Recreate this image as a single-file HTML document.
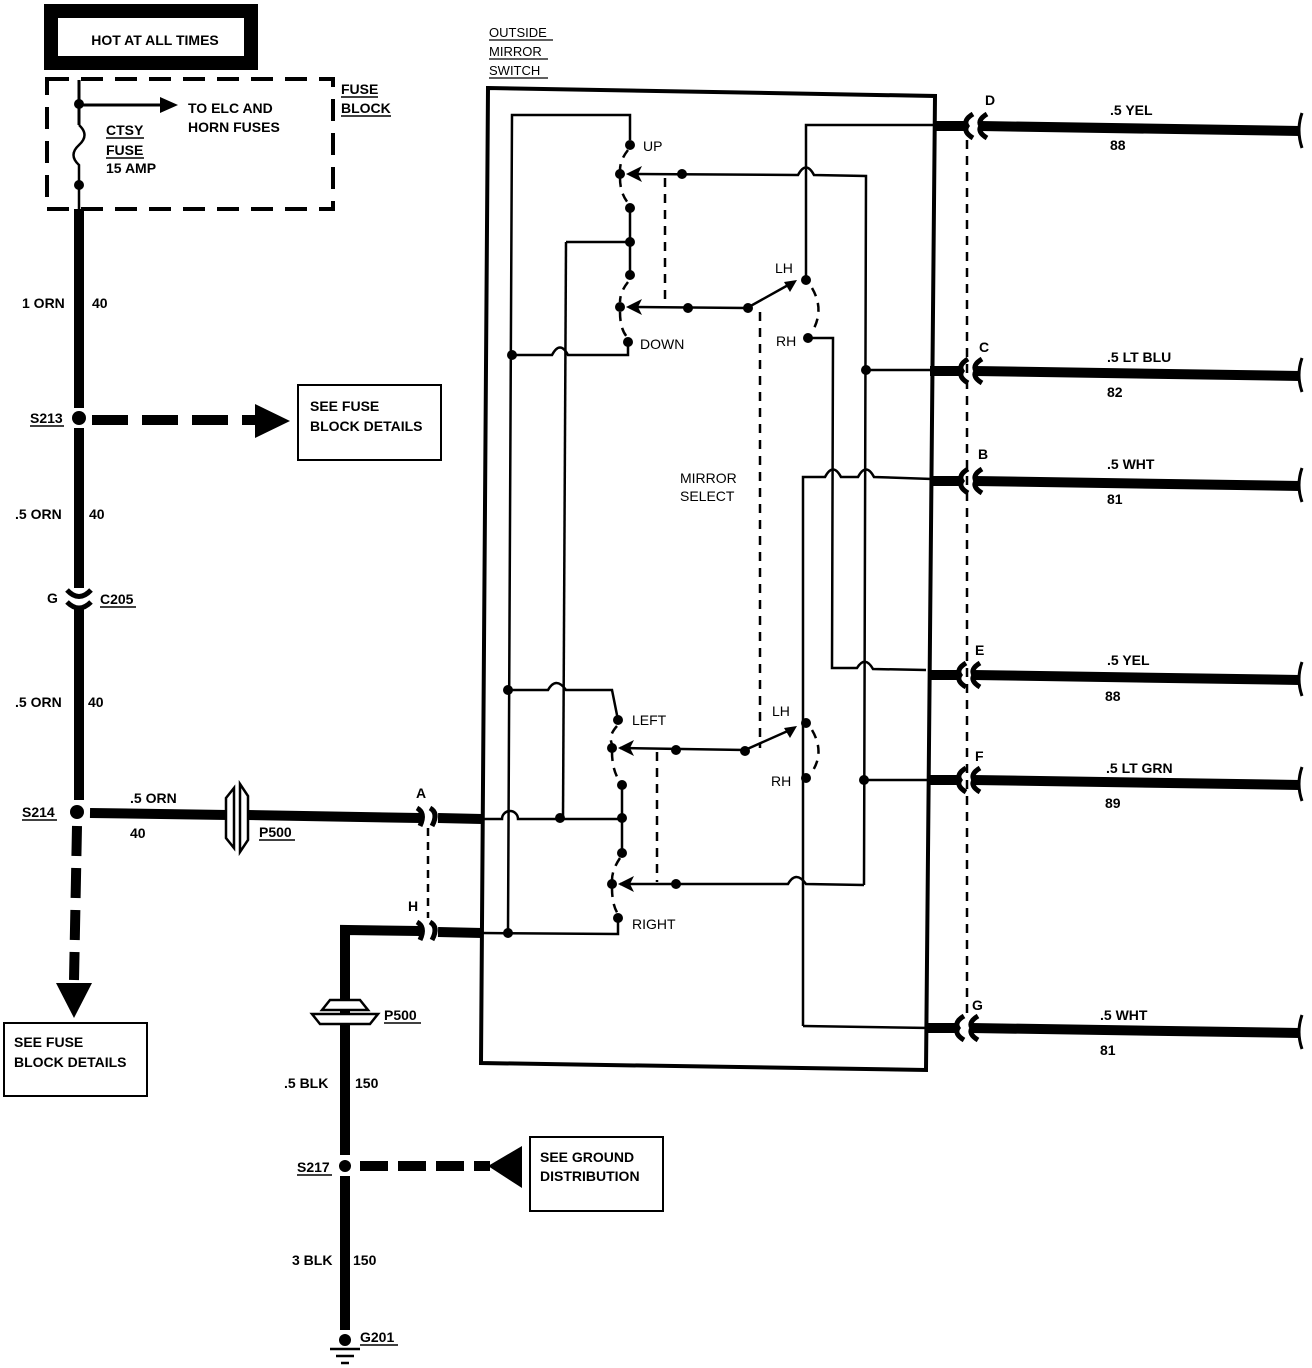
<!DOCTYPE html>
<html><head><meta charset="utf-8"><style>
html,body{margin:0;padding:0;background:#fff;width:1312px;height:1368px;overflow:hidden}
svg{display:block}
text{font-family:"Liberation Sans",sans-serif;font-weight:bold;font-size:14px;fill:#000}
</style></head><body>
<svg width="1312" height="1368" viewBox="0 0 1312 1368" xmlns="http://www.w3.org/2000/svg">
<defs>
<g id="rc">
 <rect x="0" y="-5" width="30" height="10"/>
 <path d="M38,-12 Q28,-6 32,0 Q28,6 38,12" fill="none" stroke="#000" stroke-width="5"/>
 <path d="M52,-12 Q42,-6 46,0 Q42,6 52,12" fill="none" stroke="#000" stroke-width="5"/>
</g>
</defs>

<rect x="51" y="11" width="200" height="52" fill="none" stroke="#000" stroke-width="14"/>
<text x="155" y="45" text-anchor="middle">HOT AT ALL TIMES</text>

<rect x="47" y="79" width="286" height="130" fill="none" stroke="#000" stroke-width="4" stroke-dasharray="22,12"/>
<text x="341" y="94">FUSE</text><line x1="341" y1="97" x2="378" y2="97" stroke="#000" stroke-width="1.5"/>
<text x="341" y="113">BLOCK</text><line x1="341" y1="116" x2="391" y2="116" stroke="#000" stroke-width="1.5"/>
<line x1="79" y1="80" x2="79" y2="125" stroke="#000" stroke-width="3"/>
<path d="M79,125 Q90,135 79,145 Q68,155 79,165 L79,210" fill="none" stroke="#000" stroke-width="2.5"/>
<circle cx="79" cy="104" r="5"/><circle cx="79" cy="185" r="5"/>
<line x1="79" y1="105" x2="160" y2="105" stroke="#000" stroke-width="3"/>
<polygon points="160,97 178,105 160,113"/>
<text x="188" y="113">TO ELC AND</text><text x="188" y="132">HORN FUSES</text>
<text x="106" y="135">CTSY</text><line x1="106" y1="138" x2="144" y2="138" stroke="#000" stroke-width="1.5"/>
<text x="106" y="155">FUSE</text><line x1="106" y1="158" x2="144" y2="158" stroke="#000" stroke-width="1.5"/>
<text x="106" y="173">15 AMP</text>

<line x1="79" y1="209" x2="79" y2="408" stroke="#000" stroke-width="10"/>
<line x1="79" y1="428" x2="79" y2="588" stroke="#000" stroke-width="10"/>
<line x1="79" y1="608" x2="79" y2="800" stroke="#000" stroke-width="10"/>
<text x="22" y="308">1 ORN</text><text x="92" y="308">40</text>
<circle cx="79" cy="418" r="7"/>
<text x="30" y="423">S213</text><line x1="30" y1="426" x2="64" y2="426" stroke="#000" stroke-width="1.5"/>
<line x1="92" y1="420" x2="255" y2="420" stroke="#000" stroke-width="10" stroke-dasharray="36,14"/>
<polygon points="255,404 290,421 255,438"/>
<rect x="298" y="385" width="143" height="75" fill="none" stroke="#000" stroke-width="2"/>
<text x="310" y="411">SEE FUSE</text><text x="310" y="431">BLOCK DETAILS</text>
<text x="15" y="519">.5 ORN</text><text x="89" y="519">40</text>
<path d="M67,590 Q79,603 91,590" fill="none" stroke="#000" stroke-width="5"/>
<path d="M67,602 Q79,614 91,602" fill="none" stroke="#000" stroke-width="5"/>
<text x="47" y="603">G</text>
<text x="100" y="604">C205</text><line x1="100" y1="607" x2="136" y2="607" stroke="#000" stroke-width="1.5"/>
<text x="15" y="707">.5 ORN</text><text x="88" y="707">40</text>
<circle cx="77" cy="812" r="7"/>
<text x="22" y="817">S214</text><line x1="22" y1="820" x2="57" y2="820" stroke="#000" stroke-width="1.5"/>
<line x1="77" y1="826" x2="74" y2="980" stroke="#000" stroke-width="10" stroke-dasharray="30,12"/>
<polygon points="56,983 92,983 74,1018"/>
<rect x="4" y="1023" width="143" height="73" fill="none" stroke="#000" stroke-width="2"/>
<text x="14" y="1047">SEE FUSE</text><text x="14" y="1067">BLOCK DETAILS</text>

<line x1="90" y1="813" x2="228" y2="815" stroke="#000" stroke-width="10"/>
<line x1="248" y1="815" x2="420" y2="818" stroke="#000" stroke-width="10"/>
<path d="M226,798 L234,788 L234,848 L226,838 Z" fill="#fff" stroke="#000" stroke-width="2.5"/>
<path d="M240,784 L248,796 L248,840 L240,852 Z" fill="#fff" stroke="#000" stroke-width="2.5"/>
<text x="130" y="803">.5 ORN</text><text x="130" y="838">40</text>
<text x="259" y="837">P500</text><line x1="259" y1="840" x2="295" y2="840" stroke="#000" stroke-width="1.5"/>
<path d="M417,808 Q426,813 420,826" fill="none" stroke="#000" stroke-width="5"/>
<path d="M430,808 Q439,813 432,826" fill="none" stroke="#000" stroke-width="5"/>
<text x="416" y="798">A</text>
<line x1="438" y1="818" x2="482" y2="819" stroke="#000" stroke-width="10"/>
<line x1="428" y1="828" x2="428" y2="918" stroke="#000" stroke-width="2.5" stroke-dasharray="8,6"/>

<path d="M345,1330 L345,930 L420,931" fill="none" stroke="#000" stroke-width="10"/>
<path d="M417,922 Q426,927 420,940" fill="none" stroke="#000" stroke-width="5"/>
<path d="M430,922 Q439,927 432,940" fill="none" stroke="#000" stroke-width="5"/>
<text x="408" y="911">H</text>
<line x1="438" y1="932" x2="482" y2="933" stroke="#000" stroke-width="10"/>
<path d="M322,1010 L330,1000 L360,1000 L368,1010 Z" fill="#fff" stroke="#000" stroke-width="2.5"/>
<path d="M312,1014 L378,1014 L370,1024 L320,1024 Z" fill="#fff" stroke="#000" stroke-width="2.5"/>
<text x="384" y="1020">P500</text><line x1="384" y1="1023" x2="421" y2="1023" stroke="#000" stroke-width="1.5"/>
<text x="284" y="1088">.5 BLK</text><text x="355" y="1088">150</text>
<line x1="345" y1="1155" x2="345" y2="1176" stroke="#fff" stroke-width="12"/>
<circle cx="345" cy="1166" r="6"/>
<text x="297" y="1172">S217</text><line x1="297" y1="1175" x2="332" y2="1175" stroke="#000" stroke-width="1.5"/>
<line x1="360" y1="1166" x2="490" y2="1166" stroke="#000" stroke-width="10" stroke-dasharray="28,10"/>
<polygon points="522,1146 522,1188 488,1166"/>
<rect x="530" y="1137" width="133" height="74" fill="none" stroke="#000" stroke-width="2"/>
<text x="540" y="1162">SEE GROUND</text><text x="540" y="1181">DISTRIBUTION</text>
<text x="292" y="1265">3 BLK</text><text x="353" y="1265">150</text>
<circle cx="345" cy="1340" r="6"/>
<line x1="330" y1="1349" x2="360" y2="1349" stroke="#000" stroke-width="2.5"/>
<line x1="336" y1="1356" x2="354" y2="1356" stroke="#000" stroke-width="2.5"/>
<line x1="341" y1="1363" x2="349" y2="1363" stroke="#000" stroke-width="2.5"/>
<text x="360" y="1342">G201</text><line x1="360" y1="1345" x2="398" y2="1345" stroke="#000" stroke-width="1.5"/>

<text x="489" y="37" style="font-size:13px;font-weight:normal">OUTSIDE</text><line x1="489" y1="40" x2="553" y2="40" stroke="#000" stroke-width="1.2"/>
<text x="489" y="56" style="font-size:13px;font-weight:normal">MIRROR</text><line x1="489" y1="59" x2="548" y2="59" stroke="#000" stroke-width="1.2"/>
<text x="489" y="75" style="font-size:13px;font-weight:normal">SWITCH</text><line x1="489" y1="78" x2="548" y2="78" stroke="#000" stroke-width="1.2"/>
<polygon points="488,88 935,96 926,1070 481,1063" fill="none" stroke="#000" stroke-width="4"/>

<g fill="none" stroke="#000" stroke-width="2.5">
 <path d="M630,140 L630,115 L512,115 L508,932"/>
 <path d="M566,242 L630,242"/>
 <path d="M566,242 L563,818"/>
 <path d="M512,355 L552,355 Q560,340 568,355 L628,355 L628,342"/>
 <path d="M630,208 L630,275"/>
 <path d="M482,819 L502,819 A8,8 0 0 1 518,819 L622,819"/>
 <path d="M508,690 L548,690 Q556,676 566,690 L612,690 L618,720"/>
 <path d="M622,785 L622,853"/>
 <path d="M482,933 L618,934 L618,918"/>
 <path d="M630,174 L798,175 Q806,160 814,175 L866,176 L864,885"/>
 <path d="M630,307 L747,308 L790,284"/>
 <path d="M806,280 L806,125 L935,125"/>
 <path d="M808,338 L833,338 L832,668 L857,668 Q865,655 873,669 L926,670"/>
 <path d="M866,370 L935,370"/>
 <path d="M803,1026 L803,477 L825,477 Q833,462 841,477 L858,477 Q866,462 874,477 L932,479"/>
 <path d="M620,748 L745,750 L790,730"/>
 <path d="M620,884 L788,884 Q796,870 806,884 L864,885"/>
 <path d="M864,780 L931,780"/>
 <path d="M803,1026 L930,1028"/>
</g>
<g fill="none" stroke="#000" stroke-width="2.5" stroke-dasharray="9,7">
 <path d="M628,150 Q620,160 620,170 M620,178 Q620,195 630,205"/>
 <path d="M628,282 Q620,292 620,302 M620,312 Q620,330 628,338"/>
 <path d="M665,178 L665,305"/>
 <path d="M760,312 L760,748"/>
 <path d="M812,288 Q825,310 812,332"/>
 <path d="M617,726 Q608,736 612,744 M612,752 Q612,770 620,782"/>
 <path d="M620,858 Q612,870 612,880 M612,888 Q612,905 618,914"/>
 <path d="M657,752 L657,882"/>
 <path d="M812,730 Q825,752 812,772"/>
 <path d="M967,140 L967,1018"/>
</g>
<g>
 <circle cx="630" cy="145" r="5"/><circle cx="620" cy="174" r="5"/><circle cx="682" cy="174" r="5"/>
 <circle cx="630" cy="208" r="5"/><circle cx="630" cy="242" r="5"/><circle cx="630" cy="275" r="5"/>
 <circle cx="620" cy="307" r="5"/><circle cx="688" cy="308" r="5"/><circle cx="748" cy="308" r="5"/>
 <circle cx="628" cy="342" r="5"/><circle cx="512" cy="355" r="5"/>
 <circle cx="806" cy="280" r="5"/><circle cx="808" cy="338" r="5"/><circle cx="866" cy="370" r="5"/>
 <circle cx="508" cy="690" r="5"/><circle cx="618" cy="720" r="5"/><circle cx="612" cy="748" r="5"/>
 <circle cx="676" cy="750" r="5"/><circle cx="745" cy="751" r="5"/><circle cx="806" cy="723" r="5"/>
 <circle cx="806" cy="778" r="5"/><circle cx="622" cy="785" r="5"/><circle cx="560" cy="818" r="5"/>
 <circle cx="622" cy="818" r="5"/><circle cx="622" cy="853" r="5"/><circle cx="612" cy="884" r="5"/>
 <circle cx="676" cy="884" r="5"/><circle cx="618" cy="918" r="5"/><circle cx="508" cy="933" r="5"/>
 <circle cx="864" cy="780" r="5"/>
 <polygon points="626,174 642,166 638,174 642,182"/>
 <polygon points="626,307 642,299 638,307 642,315"/>
 <polygon points="618,748 634,740 630,748 634,756"/>
 <polygon points="618,884 634,876 630,884 634,892"/>
 <polygon points="797,280 784,282 790,292"/>
 <polygon points="797,726 784,728 790,738"/>
</g>
<g style="font-size:13px">
<text x="643" y="151" style="font-weight:normal">UP</text>
<text x="640" y="349" style="font-weight:normal">DOWN</text>
<text x="775" y="273" style="font-weight:normal">LH</text>
<text x="776" y="346" style="font-weight:normal">RH</text>
<text x="680" y="483" style="font-weight:normal">MIRROR</text>
<text x="680" y="501" style="font-weight:normal">SELECT</text>
<text x="632" y="725" style="font-weight:normal">LEFT</text>
<text x="772" y="716" style="font-weight:normal">LH</text>
<text x="771" y="786" style="font-weight:normal">RH</text>
<text x="632" y="929" style="font-weight:normal">RIGHT</text>
</g>

<g>
 <use href="#rc" x="935" y="126"/>
 <use href="#rc" x="930" y="371"/>
 <use href="#rc" x="930" y="481"/>
 <use href="#rc" x="928" y="675"/>
 <use href="#rc" x="928" y="780"/>
 <use href="#rc" x="926" y="1028"/>
</g>
<g stroke="#000" stroke-width="10">
 <line x1="980" y1="126" x2="1300" y2="131"/>
 <line x1="975" y1="371" x2="1300" y2="376"/>
 <line x1="975" y1="481" x2="1300" y2="486"/>
 <line x1="973" y1="675" x2="1300" y2="680"/>
 <line x1="973" y1="780" x2="1300" y2="785"/>
 <line x1="971" y1="1028" x2="1300" y2="1033"/>
</g>
<g fill="none" stroke="#000" stroke-width="3">
 <path d="M1302,113 Q1296,130 1302,148"/>
 <path d="M1302,358 Q1296,375 1302,392"/>
 <path d="M1302,468 Q1296,485 1302,502"/>
 <path d="M1302,662 Q1296,679 1302,696"/>
 <path d="M1302,767 Q1296,784 1302,801"/>
 <path d="M1302,1015 Q1296,1032 1302,1049"/>
</g>
<g style="font-size:13px">
<text x="985" y="105">D</text><text x="1110" y="115">.5 YEL</text><text x="1110" y="150">88</text>
<text x="979" y="352">C</text><text x="1107" y="362">.5 LT BLU</text><text x="1107" y="397">82</text>
<text x="978" y="459">B</text><text x="1107" y="469">.5 WHT</text><text x="1107" y="504">81</text>
<text x="975" y="655">E</text><text x="1107" y="665">.5 YEL</text><text x="1105" y="701">88</text>
<text x="975" y="761">F</text><text x="1106" y="773">.5 LT GRN</text><text x="1105" y="808">89</text>
<text x="972" y="1010">G</text><text x="1100" y="1020">.5 WHT</text><text x="1100" y="1055">81</text>
</g>
</svg>
</body></html>
